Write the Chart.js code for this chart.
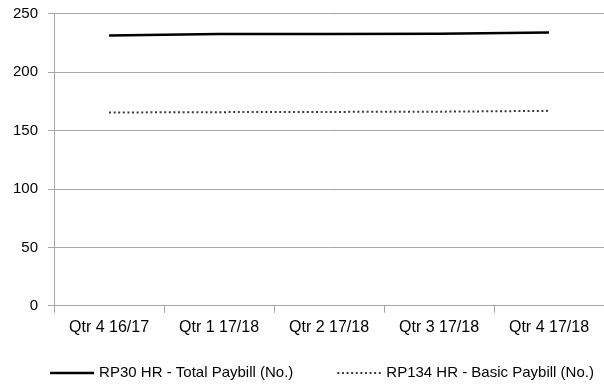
<!DOCTYPE html>
<html>
<head>
<meta charset="utf-8">
<script src="https://cdn.jsdelivr.net/npm/chart.js@4/dist/chart.umd.min.js"></script>
<style>
  html, body { margin: 0; padding: 0; background: #fff; }
  #wrap { width: 604px; height: 384px; }
</style>
</head>
<body>
<div id="wrap"><canvas id="paybillChart" width="604" height="384"></canvas></div>
<script>
// quarters on the x axis
const quarters = ["Qtr 4 16/17", "Qtr 1 17/18", "Qtr 2 17/18", "Qtr 3 17/18", "Qtr 4 17/18"];

// series values
const totalPaybill = [231.5, 232.8, 232.9, 233.0, 234.2];
const basicPaybill = [165.6, 165.9, 166.1, 166.3, 167.0];

const yTicks = [0, 50, 100, 150, 200, 250];

const gridGrey = "#a6a6a6";
const fontFamily = "'Liberation Sans', Arial, sans-serif";

// legend drawn by hand so both entries sit on one row with Excel-like spacing
const lineLegend = {
    id: "lineLegend",
    afterDraw(chart) {
        const c = chart.ctx;
        const sample = 44, gapText = 5, gapItem = 44;
        const y = chart.height - 11;
        c.save();
        c.font = "15px " + fontFamily;
        c.textBaseline = "middle";
        const items = chart.data.datasets.map(ds => ({ ds, w: c.measureText(ds.label).width }));
        let total = 0;
        items.forEach((it, i) => { total += sample + gapText + it.w + (i ? gapItem : 0); });
        let x = chart.width / 2 + 20 - total / 2;
        items.forEach(it => {
            c.beginPath();
            c.lineWidth = it.ds.borderWidth;
            c.strokeStyle = it.ds.borderColor;
            c.setLineDash(it.ds.borderDash || []);
            c.moveTo(x, y);
            c.lineTo(x + sample, y);
            c.stroke();
            c.setLineDash([]);
            c.fillStyle = "#000";
            c.fillText(it.ds.label, x + sample + gapText, y);
            x += sample + gapText + it.w + gapItem;
        });
        c.restore();
    }
};

document.addEventListener("DOMContentLoaded", function () {
    const ctx = document.getElementById("paybillChart").getContext("2d");

    new Chart(ctx, {
        type: "line",
        data: {
            labels: quarters,
            datasets: [
                {
                    label: "RP30 HR - Total Paybill (No.)",
                    data: totalPaybill,
                    borderColor: "#000000",
                    borderWidth: 2.5,
                    pointRadius: 0,
                    tension: 0
                },
                {
                    label: "RP134 HR - Basic Paybill (No.)",
                    data: basicPaybill,
                    borderColor: "#3a3a3a",
                    borderWidth: 2,
                    borderDash: [2, 2.6],
                    pointRadius: 0,
                    tension: 0
                }
            ]
        },
        plugins: [lineLegend],
        options: {
            responsive: false,
            animation: false,
            layout: { padding: { top: 0, right: 0, left: 3, bottom: 42 } },
            plugins: {
                legend: { display: false },
                tooltip: { enabled: false }
            },
            scales: {
                x: {
                    offset: true,
                    grid: {
                        offset: true,
                        drawOnChartArea: false,
                        drawTicks: true,
                        tickLength: 7,
                        color: gridGrey
                    },
                    border: { color: gridGrey, width: 1 },
                    ticks: {
                        color: "#000",
                        padding: 5,
                        maxRotation: 0,
                        font: { family: fontFamily, size: 16 }
                    }
                },
                y: {
                    min: 0,
                    max: 250,
                    afterBuildTicks: axis => { axis.ticks = yTicks.map(v => ({ value: v })); },
                    grid: {
                        color: gridGrey,
                        tickLength: 6,
                        lineWidth: 1
                    },
                    border: { color: gridGrey, width: 1 },
                    ticks: {
                        color: "#000",
                        padding: 10,
                        font: { family: fontFamily, size: 15, lineHeight: 0.53 }
                    }
                }
            }
        }
    });
});
</script>
</body>
</html>
